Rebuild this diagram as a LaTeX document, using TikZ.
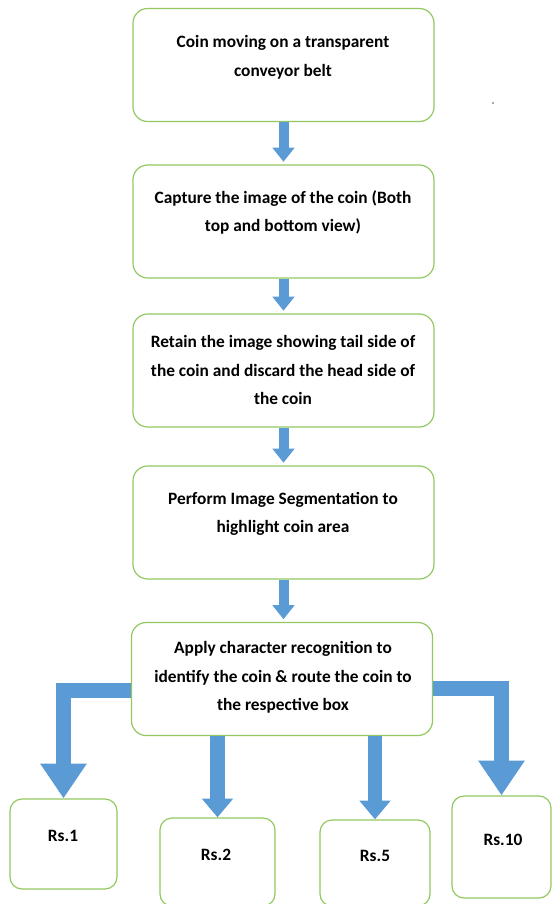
\documentclass[tikz,border=0pt]{standalone}
\usepackage{fontspec}
\setmainfont{Carlito}
\usetikzlibrary{arrows.meta}

\definecolor{boxgreen}{RGB}{146,200,96}
\definecolor{arrowblue}{RGB}{91,155,213}

\tikzset{every picture/.style={line width=0.75pt}}
\tikzset{
  stepbox/.style={draw=boxgreen, line width=0.9pt, rounded corners=11pt, minimum width=225.75pt, minimum height=84.75pt, inner sep=0pt},
  coinbox/.style={draw=boxgreen, line width=0.9pt, rounded corners=9pt, inner sep=0pt},
  boxtext/.style={font=\fontsize{13}{21.5}\selectfont\bfseries, align=center, inner sep=0pt},
  smallarrow/.style={arrowblue, line width=7.5pt, -{Triangle[width=16pt,length=10.5pt]}, shorten >=2pt},
  midarrow/.style={arrowblue, line width=11pt, -{Triangle[width=22.5pt,length=14pt]}},
  bigarrow/.style={arrowblue, line width=11.25pt, line join=miter, -{Triangle[width=33pt,length=26pt]}},
}

\begin{document}
\begin{tikzpicture}[x=0.75pt,y=0.75pt,yscale=-1,xscale=1]
	\useasboundingbox (0,0) rectangle (552,904);

	%Rounded Rect
	\node[stepbox] (b1) at (283.5,65) {};
	\node[stepbox] (b2) at (283.5,221.5) {};
	\node[stepbox] (b3) at (283.5,370.5) {};
	\node[stepbox] (b4) at (283.5,522.5) {};
	\node[stepbox] (b5) at (282,679) {};

	%Rounded Rect
	\node[coinbox, minimum width=80.25pt, minimum height=67.5pt] (r1) at (63.5,844) {};
	\node[coinbox, minimum width=86.25pt, minimum height=66pt] (r2) at (217.5,862) {};
	\node[coinbox, minimum width=82.5pt, minimum height=64.5pt] (r5) at (375,863) {};
	\node[coinbox, minimum width=74.25pt, minimum height=76.5pt] (r10) at (501.5,847) {};

	% Text Node
	\node[boxtext] (t1) at (283,57.5) {Coin moving on a transparent\\conveyor belt};
	% Text Node
	\node[boxtext] (t2) at (283,212.5) {Capture the image of the coin (Both\\top and bottom view)};
	% Text Node
	\node[boxtext] (t3) at (283,370) {Retain the image showing tail side of\\the coin and discard the head side of\\the coin};
	% Text Node
	\node[boxtext] (t4) at (283,514) {Perform Image Segmentation to\\highlight coin area};
	% Text Node
	\node[boxtext] (t5) at (283,677.5) {Apply character recognition to\\identify the coin \& route the coin to\\the respective box};

	% Text Node
	\node[boxtext] (n1) at (63,836) {Rs.1};
	\node[boxtext] (n2) at (216,855) {Rs.2};
	\node[boxtext] (n5) at (375,856) {Rs.5};
	\node[boxtext] (n10) at (503,840) {Rs.10};

	%Block Arrows
	\draw[smallarrow] (b1.south) -- (b2.north);
	\draw[smallarrow] (b2.south) -- (b3.north);
	\draw[smallarrow] (b3.south) -- (b4.north);
	\draw[smallarrow] (b4.south) -- (b4.south |- b5.north);

	%Bent Arrows
	\draw[bigarrow] ([yshift=8.25pt]b5.west) -| (r1.north);
	\draw[bigarrow] ([yshift=7pt]b5.east) -| (r10.north);
	\draw[midarrow] (b5.south -| r2.north) -- (r2.north);
	\draw[midarrow] (b5.south -| r5.north) -- (r5.north);

	%Dot
	\fill[black!70] (493,103) circle (0.8);

\end{tikzpicture}
\end{document}
